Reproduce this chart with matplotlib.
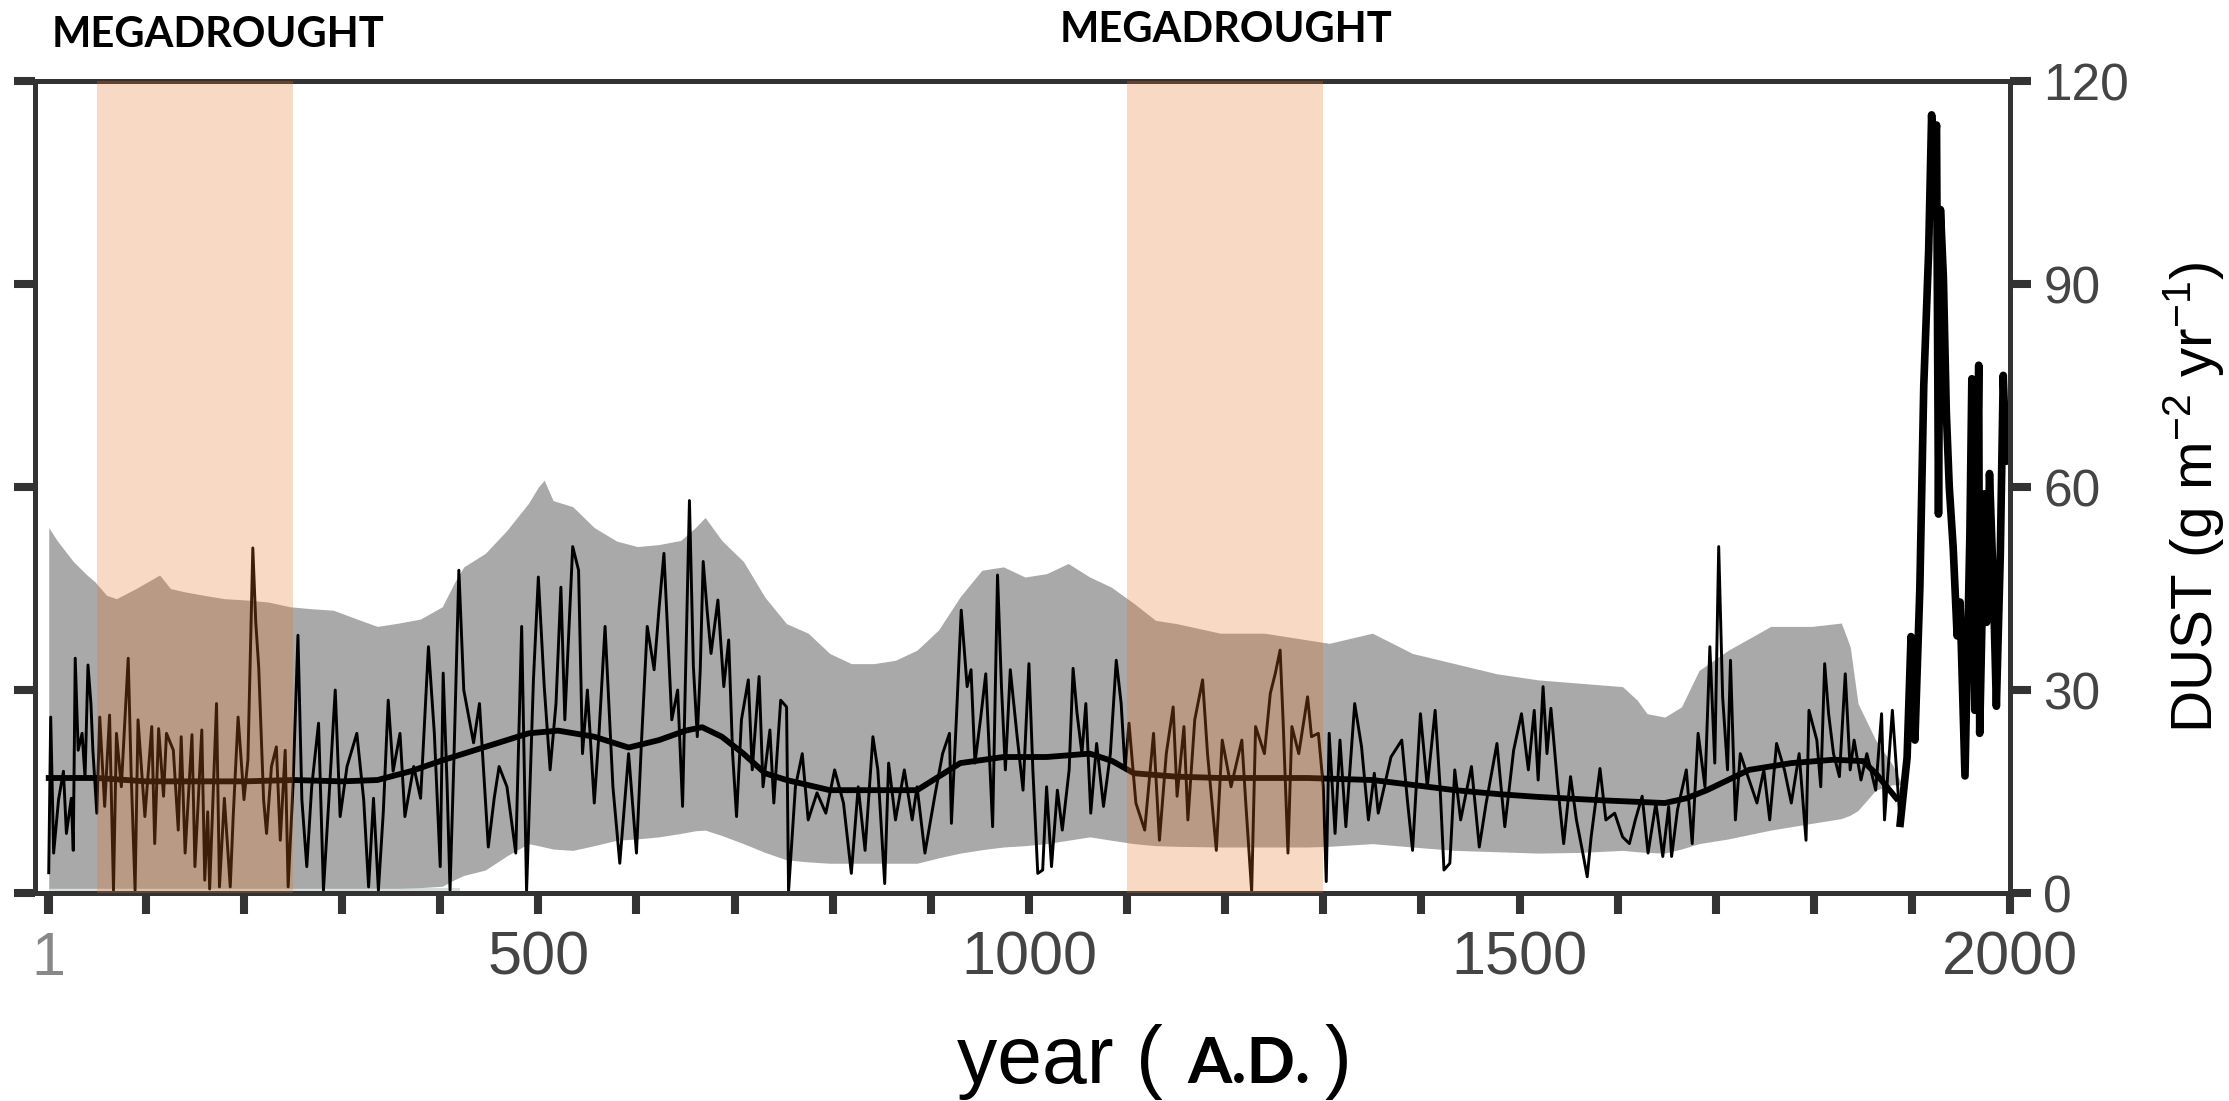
import matplotlib.pyplot as plt
from matplotlib.ticker import FixedLocator, MultipleLocator

plt.rcParams['font.family'] = ['Liberation Sans', 'DejaVu Sans']
plt.rcParams['mathtext.default'] = 'regular'

# annual dust flux record (g m-2 yr-1)
years = [1, 3, 6, 11, 16, 19, 24, 26, 28, 31, 35, 38, 41, 44, 46, 50, 53, 58, 63, 67,
         70, 75, 82, 85, 89, 92, 99, 106, 109, 113, 118, 121, 128, 133, 136, 140, 147, 150,
         157, 160, 163, 165, 172, 175, 180, 186, 189, 194, 200, 204, 209, 212, 215, 220,
         223, 228, 233, 237, 242, 245, 250, 255, 259, 264, 269, 276, 281, 287, 293, 298,
         305, 315, 322, 327, 332, 337, 342, 347, 352, 359, 364, 373, 380, 388, 394, 400,
         403, 407, 410, 414, 419, 424, 434, 440, 449, 455, 460, 468, 477, 483, 488, 495,
         500, 506, 512, 518, 523, 527, 535, 541, 545, 550, 557, 562, 568, 576, 583, 592,
         600, 605, 611, 618, 623, 628, 636, 642, 647, 654, 658, 662, 665, 668, 672, 676,
         683, 689, 694, 698, 702, 707, 714, 718, 725, 729, 736, 740, 747, 753, 755, 762,
         769, 775, 784, 793, 802, 811, 819, 826, 833, 841, 846, 853, 857, 864, 873, 881,
         886, 894, 904, 912, 919, 921, 926, 931, 937, 941, 945, 951, 956, 963, 968, 972,
         976, 981, 988, 994, 1000, 1004, 1009, 1014, 1018, 1023, 1029, 1034, 1041, 1045,
         1049, 1054, 1058, 1063, 1069, 1076, 1083, 1089, 1094, 1098, 1102, 1109, 1118,
         1127, 1133, 1140, 1147, 1151, 1158, 1162, 1169, 1177, 1182, 1191, 1197, 1206,
         1217, 1221, 1227, 1231, 1240, 1246, 1251, 1256, 1259, 1264, 1268, 1275, 1284,
         1288, 1295, 1300, 1303, 1306, 1312, 1317, 1323, 1332, 1339, 1346, 1352, 1356,
         1369, 1380, 1386, 1391, 1399, 1406, 1414, 1419, 1423, 1429, 1434, 1440, 1451,
         1459, 1466, 1477, 1485, 1494, 1502, 1509, 1515, 1519, 1524, 1528, 1532, 1539,
         1545, 1552, 1558, 1564, 1569, 1573, 1582, 1588, 1597, 1605, 1612, 1618, 1625,
         1631, 1639, 1646, 1652, 1655, 1661, 1670, 1676, 1682, 1689, 1694, 1699, 1703,
         1707, 1712, 1715, 1720, 1725, 1734, 1742, 1749, 1755, 1762, 1770, 1777, 1785,
         1792, 1795, 1803, 1807, 1811, 1815, 1820, 1826, 1832, 1837, 1841, 1848, 1854,
         1863, 1869, 1872, 1880, 1888]
dust = [3, 26, 5.9, 13.8, 18, 8.8, 14, 6.3, 34.7, 21.1, 23.6, 17, 33.7, 28, 21.1, 11.8, 26,
        12.8, 26.3, 0.4, 23.6, 15.7, 34.7, 17.7, 0.4, 25.6, 11.3, 24.6, 7.3, 24.3, 14.3,
        23.6, 21.1, 9.3, 23.1, 5.9, 23.4, 3.9, 24.1, 1.9, 12, 0.6, 28, 0.9, 14, 0.9, 11.3,
        26, 13.8, 19.7, 51, 40, 33.4, 13.8, 8.8, 18.7, 21.6, 7.8, 21.1, 0.9, 16, 38.1, 13.8,
        3.9, 15.7, 25.1, 0.4, 15, 30, 11.3, 18.7, 23.6, 13.8, 0.9, 14, 0.4, 12, 28.5, 18,
        23.6, 11.3, 18.7, 14, 36.4, 23.6, 3.9, 32.5, 16, 0.4, 20, 47.7, 30, 22.2, 28, 6.8,
        14, 18.7, 15.7, 5.9, 39.4, 0.2, 31.5, 46.7, 30.5, 18.2, 28, 45.2, 25.6, 51.2, 47.7,
        20.6, 30, 13.3, 24, 39.4, 15.7, 4.4, 20.6, 5.9, 22, 39.4, 33, 42, 50.2, 25.6, 30,
        12.8, 58, 33.5, 23.1, 33, 49, 41.8, 35.4, 43.3, 30.5, 37.4, 20.6, 11.3, 25.6, 31.5,
        18.2, 32, 15.7, 24.1, 13.3, 28.5, 27.5, 0.2, 15.7, 20.6, 10.8, 14.8, 11.8, 18.2,
        13.3, 2.9, 15.7, 6.3, 23.1, 18.2, 1.4, 19.2, 10.8, 18.2, 10.8, 15.7, 5.9, 14.3,
        20.6, 23.6, 10.3, 25.6, 41.8, 30.5, 33, 19.2, 26.1, 32.4, 9.8, 47, 30.5, 18.2, 33,
        23.1, 15.2, 33.9, 18.2, 2.9, 3.4, 15.7, 3.9, 15.2, 9.3, 18.2, 33.2, 26.6, 20.6, 28,
        11.8, 22.1, 12.8, 20.6, 34.4, 28, 18.2, 25.1, 13.3, 9.3, 23.6, 7.8, 20.6, 27.5,
        14.3, 24.6, 10.8, 25.6, 31.5, 20.6, 6.3, 22.6, 15.7, 22.6, 13.3, 0.2, 24.6, 20.6,
        29.5, 32.4, 35.9, 25.6, 5.9, 24.6, 20.6, 29, 23.1, 23.6, 15.7, 1.7, 23.6, 8.8, 22.6,
        9.8, 28, 21.6, 10.8, 17.7, 11.8, 20.1, 22.6, 13.3, 6.3, 26.5, 15.7, 27, 15.7, 3.4,
        4.4, 18.2, 10.8, 18.7, 6.8, 13.3, 22.1, 9.8, 21.1, 26.5, 18.2, 27, 16.7, 30.5, 20.6,
        27.3, 15.7, 7.3, 17.2, 10.8, 6.3, 2.4, 8.3, 18.4, 10.8, 11.8, 8.3, 7.3, 10.8, 14.3,
        5.9, 13.3, 5.4, 12.8, 5.4, 12.3, 18.2, 7.3, 23.6, 15.7, 36.4, 19.2, 51.2, 29, 18.2,
        34.4, 10.8, 20.6, 16.7, 13.3, 18.2, 10.8, 22.1, 18.2, 13.3, 20.6, 7.8, 27, 22.6,
        15.7, 33.9, 26.5, 20.6, 17.2, 32.4, 18.2, 22.6, 16.7, 20.6, 15.2, 26.5, 10.8, 27,
        10.3]

# industrial-era rise, drawn heavier
recent_years = [1888, 1895, 1899, 1903, 1908, 1912, 1917, 1920, 1922, 1925, 1927, 1929,
                1932, 1935, 1938, 1942, 1946, 1949, 1954, 1959, 1961, 1964, 1968, 1969,
                1972, 1974, 1976, 1979, 1983, 1986, 1990, 1993, 1996, 1998]
recent_dust = [10.3, 20, 37.9, 22.6, 45, 75, 95, 115, 108, 113.5, 56, 101, 91, 71, 60, 51,
               38, 43, 17.3, 53, 76, 27, 78, 23.6, 45, 59, 40, 62, 45, 27.6, 50, 76.5, 63.8,
               70]

# smoothed record
smooth_years = [1, 50, 100, 150, 200, 250, 300, 336, 370, 402, 446, 490, 520, 557, 592,
                623, 650, 667, 687, 709, 731, 753, 797, 842, 886, 908, 930, 974, 1018,
                1062, 1085, 1107, 1150, 1195, 1240, 1284, 1350, 1390, 1434, 1480, 1519,
                1584, 1648, 1670, 1691, 1734, 1777, 1820, 1850, 1863, 1884]
smooth_dust = [17, 17, 16.5, 16.5, 16.5, 16.7, 16.5, 16.7, 18, 19.6, 21.6, 23.6, 24, 23.1,
               21.5, 22.6, 24, 24.5, 23.1, 20.6, 17.7, 16.7, 15.2, 15.2, 15.2, 17.2, 19.2,
               20.1, 20.1, 20.6, 19.5, 17.7, 17.2, 17, 17, 17, 16.7, 16, 15.2, 14.6, 14.2,
               13.7, 13.3, 14, 15.2, 18.2, 19.2, 19.7, 19.5, 17.7, 14]

# uncertainty envelope
band_years = [1, 10, 26, 40, 48, 60, 70, 90, 114, 125, 140, 159, 180, 203, 225, 247, 270,
              291, 315, 336, 358, 380, 402, 415, 424, 446, 468, 490, 500, 506, 515, 535,
              557, 580, 601, 623, 645, 660, 670, 687, 709, 731, 753, 775, 797, 819, 842,
              864, 886, 908, 930, 952, 974, 996, 1018, 1040, 1062, 1084, 1107, 1129, 1151,
              1195, 1240, 1284, 1306, 1350, 1391, 1434, 1477, 1519, 1562, 1605, 1620, 1630,
              1648, 1665, 1683, 1713, 1756, 1798, 1828, 1837, 1845, 1863, 1880, 1890]
band_high = [54, 52, 49, 47, 46, 44, 43.5, 45, 47, 45, 44.5, 44, 43.5, 43.3, 43, 42.3, 42,
             41.8, 40.5, 39.4, 39.9, 40.5, 42.3, 46, 48.2, 50.2, 53.6, 57.6, 60, 61, 58,
             57.1, 54, 52, 51.2, 51.5, 52.1, 54, 55.5, 52.1, 49, 43.7, 39.8, 38.4, 35.4,
             33.9, 33.9, 34.4, 35.9, 38.9, 43.8, 47.7, 48.2, 46.7, 47.2, 48.7, 46.7, 45.2,
             42.8, 40.3, 39.8, 38.4, 38.4, 37.4, 36.9, 38.4, 35.4, 33.9, 32.4, 31.5, 31,
             30.5, 28.5, 26.5, 26, 27.5, 32.9, 35.9, 39.4, 39.4, 39.9, 36.4, 28, 22.6, 19, 16]
band_low = [0.7, 0.7, 0.7, 0.7, 0.7, 0.7, 0.7, 0.7, 0.7, 0.7, 0.7, 0.7, 0.7, 0.7, 0.7, 0.7,
            0.7, 0.7, 0.7, 0.7, 0.7, 0.8, 1, 2, 2.6, 3.4, 5.5, 7.3, 7, 6.8, 6.5, 6.3, 7,
            7.8, 8, 8.3, 8.8, 9.2, 9.3, 8.5, 7.3, 6, 4.9, 4.6, 4.4, 4.4, 4.4, 4.4, 4.4, 5.2,
            5.9, 6.4, 6.8, 7, 7.3, 7.8, 8.3, 7.8, 7.3, 7, 6.9, 6.8, 6.8, 6.8, 6.9, 7.3, 6.8,
            6.3, 6.1, 5.9, 6, 6.3, 6.1, 6, 5.9, 6.5, 7.3, 8, 9.3, 10.3, 11, 11.5, 12.2,
            15.2, 16, 16]

droughts = [(50, 250), (1100, 1300)]
drought_label_x = [0.0233, 0.4756]
drought_label_y = [0.9573, 0.9619]

xticks = [1, 500, 1000, 1500, 2000]
yticks = [0, 30, 60, 90, 120]

fig = plt.figure(figsize=(22.29, 11.01), dpi=100)
ax = fig.add_axes([0.0157, 0.1889, 0.8861, 0.7375])

ax.fill_between([1, 420], 0, 0.7, color='#d6dede', lw=0)
ax.fill_between(band_years, band_low, band_high, color='#a9a9a9', lw=0)
ax.plot(years, dust, color='black', lw=2.1)
ax.plot(smooth_years, smooth_dust, color='black', lw=4.2)
ax.plot(recent_years, recent_dust, color='black', lw=5.5, solid_joinstyle='round')

for start, end in droughts:
    ax.axvspan(start, end, color='#e47225', alpha=0.265, lw=0, zorder=5)

ax.set_xlim(-13, 2000)
ax.set_ylim(0, 120)

ax.xaxis.set_major_locator(FixedLocator(xticks))
ax.xaxis.set_minor_locator(MultipleLocator(100))
ax.yaxis.set_major_locator(FixedLocator(yticks))
ax.set_xticklabels([str(t) for t in xticks])
ax.set_yticklabels([str(t) for t in yticks])

for s in ax.spines.values():
    s.set_linewidth(3.6)
    s.set_color('#333333')

ax.tick_params(which='both', direction='out', length=15, width=5.8, color='#333333')
ax.tick_params(axis='x', which='both', top=False, pad=12, labelsize=44,
               labelcolor='#444444')
ax.tick_params(axis='y', left=True, right=True, labelleft=False, labelright=True,
               pad=9, labelsize=37, labelcolor='#444444')
ax.get_xticklabels()[0].set_color('#888888')

fig.text(0.9843, 0.5486, 'DUST (g m$^{-2}$ yr$^{-1}$)', rotation=90, fontsize=42,
         ha='center', va='center')

fig.text(0.4293, 0.0163, 'year (', fontsize=58, va='baseline')
fig.text(0.5325, 0.0163, 'A.D.', fontsize=46, fontweight='bold', family='Lato',
         va='baseline')
fig.text(0.5944, 0.0163, ')', fontsize=58, va='baseline')

for x, y in zip(drought_label_x, drought_label_y):
    fig.text(x, y, 'MEGADROUGHT', fontsize=30, fontweight='bold', family='Lato',
             va='baseline')

fig.savefig('out.png', dpi=100)
